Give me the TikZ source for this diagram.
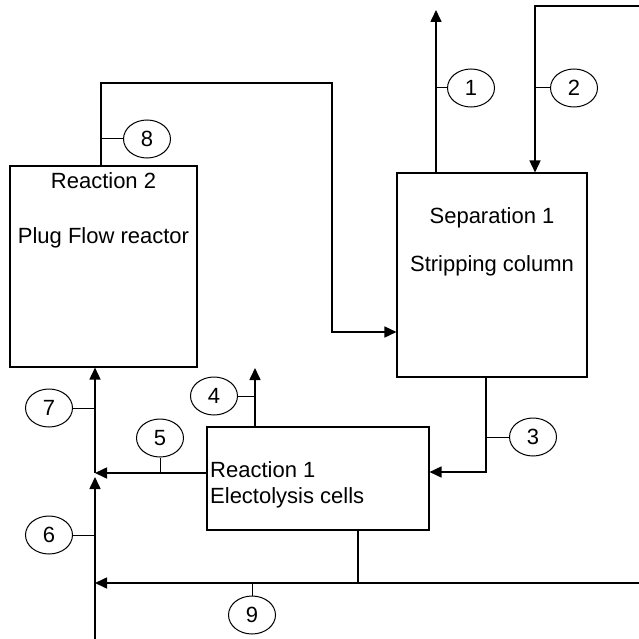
\documentclass[tikz,border=0pt]{standalone}
\usepackage{fontspec}
\setmainfont{Liberation Sans}
\usetikzlibrary{
    arrows.meta,
    shapes.geometric,
    calc
}
\tikzstyle{unit} = [
    rectangle,
    draw=black,
    line width=1.1pt,
    inner sep=0pt
]
\tikzstyle{unittext} = [
    inner sep=0pt,
    font=\fontsize{22}{26}\selectfont
]
\tikzstyle{streamtag} = [
    ellipse,
    draw=black,
    line width=1pt,
    minimum width=47pt,
    minimum height=38pt,
    inner sep=0pt,
    font=\fontsize{22}{26}\selectfont
]
\tikzstyle{stream} = [
    line width=1.6pt,
    -{Triangle[length=12pt,width=11pt]}
]
\tikzstyle{plainline} = [
    line width=1.6pt
]
\tikzstyle{tick} = [
    line width=1pt
]

\begin{document}
\begin{tikzpicture}[x=1pt, y=-1pt]
        \useasboundingbox (0,0) rectangle (639,639);

        % process units
        \node[unit, minimum width=187pt, minimum height=201pt] (r2) at (103.5,266.5) {};
        \node[unit, minimum width=190pt, minimum height=204pt] (sep) at (492,275) {};
        \node[unit, minimum width=222pt, minimum height=103pt] (r1) at (318,478.5) {};

        \node[unittext, anchor=base] (r2a) at (103.5,188) {Reaction 2};
        \node[unittext, anchor=base] (r2b) at (103.5,243) {Plug Flow reactor};
        \node[unittext, anchor=base] (sepa) at (492,223) {Separation 1};
        \node[unittext, anchor=base] (sepb) at (492,271) {Stripping column};
        \node[unittext, anchor=base west] (r1a) at (210,477) {Reaction 1};
        \node[unittext, anchor=base west] (r1b) at (210,503) {Electolysis cells};

        % bends and free ends
        \coordinate (top1) at (436,10);
        \coordinate (in2) at (639,6);
        \coordinate (c2) at (535,6);
        \coordinate (c3) at (486,472);
        \coordinate (out4) at (255,368);
        \coordinate (mix) at (95,473);
        \coordinate (in6) at (95,639);
        \coordinate (c8a) at (101,83);
        \coordinate (c8b) at (332,83);
        \coordinate (c8c) at (332,332);
        \coordinate (c9) at (358,583);
        \coordinate (out9) at (95,583);
        \coordinate (in9) at (639,583);

        % streams
        \draw[stream] (sep.north -| top1) -- (top1);
        \draw[stream] (in2) -- (c2) -- (sep.north -| c2);
        \draw[stream] (sep.south -| c3) -- (c3) -- (r1.east |- c3);
        \draw[stream] (r1.north -| out4) -- (out4);
        \draw[stream] (r1.west |- mix) -- (mix);
        \draw[stream] (in6) -- ([yshift=-4pt]mix);
        \draw[stream] (mix) -- (r2.south -| mix);
        \draw[stream] (r2.north -| c8a) -- (c8a) -- (c8b) -- (c8c) -- (sep.west |- c8c);
        \draw[stream] (r1.south -| c9) -- (c9) -- (out9);
        \draw[plainline] (in9) -- (c9);

        % stream numbers
        \node[streamtag] (s1) at (471,88) {1};
        \node[streamtag] (s2) at (574,88) {2};
        \node[streamtag] (s3) at (533,437) {3};
        \node[streamtag] (s4) at (214,396) {4};
        \node[streamtag] (s5) at (160,438) {5};
        \node[streamtag] (s6) at (49,535) {6};
        \node[streamtag] (s7) at (49,408) {7};
        \node[streamtag] (s8) at (147,139) {8};
        \node[streamtag] (s9) at (252,615) {9};

        \draw[tick] (s1.west -| top1) -- (s1.west);
        \draw[tick] (s2.west -| c2) -- (s2.west);
        \draw[tick] (s3.west -| c3) -- (s3.west);
        \draw[tick] (s4.east) -- (s4.east -| out4);
        \draw[tick] (s5.south) -- (s5.south |- mix);
        \draw[tick] (s6.east) -- (s6.east -| mix);
        \draw[tick] (s7.east) -- (s7.east -| mix);
        \draw[tick] (s8.west) -- (s8.west -| c8a);
        \draw[tick] (s9.north) -- (s9.north |- c9);
    \end{tikzpicture}
\end{document}
